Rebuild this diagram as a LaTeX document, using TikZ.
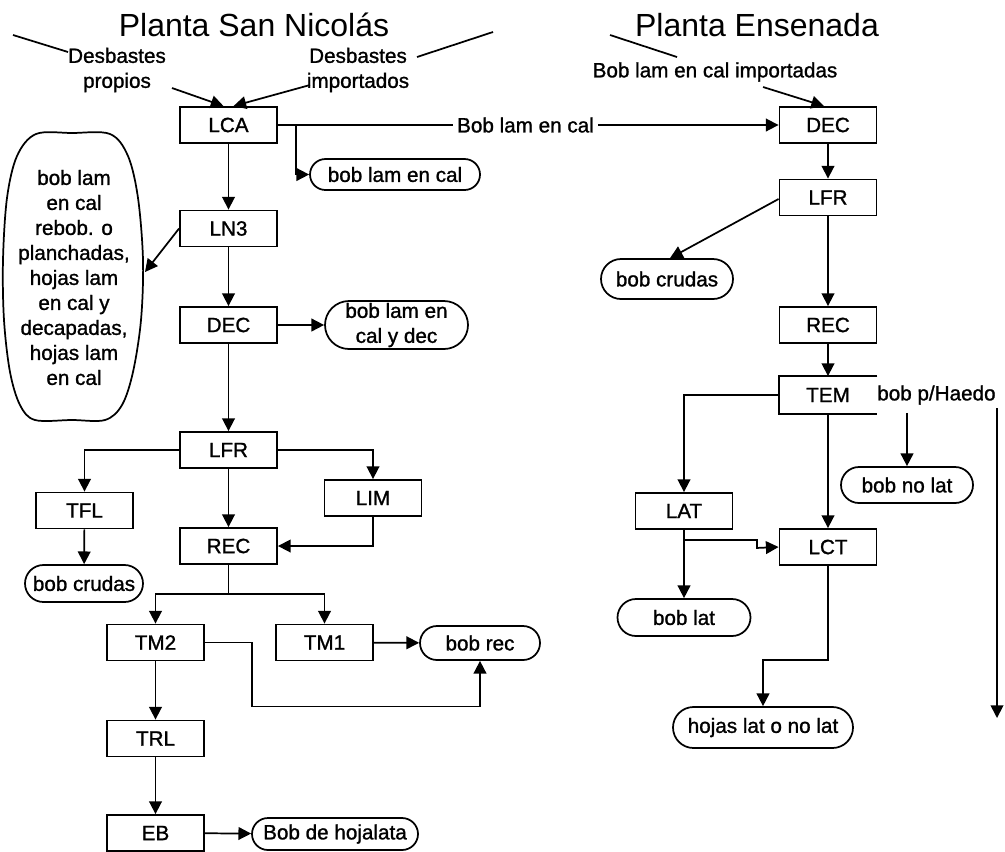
\documentclass[tikz,border=0pt]{standalone}
\usepackage{fontspec}
\setmainfont{Liberation Sans}
\newfontfamily\heavyface{Liberation Sans}[FakeBold=1.2]
\usetikzlibrary{arrows.meta,shapes.misc,calc}

\newcommand{\bodyfnt}{\heavyface\fontsize{15.5}{18.75}\selectfont}
\newcommand{\titlefnt}{\normalfont\fontsize{24}{28}\selectfont}

\tikzset{
  every node/.style={font=\bodyfnt},
  box/.style={draw, rectangle, line width=1.4pt, minimum width=72.75pt,
              minimum height=27pt, inner sep=0pt},
  term/.style={draw, rounded rectangle, line width=1.3pt, inner sep=0pt, align=center},
  lbl/.style={inner sep=0pt, align=center},
  flow/.style={line width=1.3pt, -{Triangle[length=9.5pt,width=9.5pt]}},
  plain/.style={line width=1.3pt},
}

\begin{document}
\begin{tikzpicture}[x=0.75pt,y=-0.75pt]
\useasboundingbox (0,0) rectangle (1005,851);

% ---------- titles ----------
\node[lbl, font=\titlefnt] (tsn) at (254,25) {Planta San Nicolás};
\node[lbl, font=\titlefnt] (ten) at (757,25) {Planta Ensenada};

% ---------- Planta San Nicolás ----------
\node[lbl] (dprop) at (117,70) {Desbastes\\propios};
\node[lbl] (dimp)  at (358,70) {Desbastes\\importados};

\node[box] (lca)  at (228.5,125)  {LCA};
\node[box] (ln3)  at (228.5,228.5) {LN3};
\node[box] (dec1) at (228.5,325)  {DEC};
\node[box] (lfr1) at (228.5,450)  {LFR};
\node[box] (tfl)  at (84.5,510.5) {TFL};
\node[box] (lim)  at (373,498)    {LIM};
\node[box] (rec1) at (228.5,546)  {REC};
\node[box] (tm2)  at (155.5,642.5) {TM2};
\node[box] (tm1)  at (324.5,642.5) {TM1};
\node[box] (trl)  at (155.5,738.5) {TRL};
\node[box] (eb)   at (155.5,833)  {EB};

\node[term, minimum width=127.5pt, minimum height=23.25pt] (blec) at (395,174.5) {bob lam en cal};
\node[term, minimum width=107.25pt, minimum height=36pt] (blyd) at (396.5,325) {bob lam en\\cal y dec};
\node[term, minimum width=88.5pt, minimum height=27.75pt] (crud1) at (84,583.5) {bob crudas};
\node[term, minimum width=90pt, minimum height=25.5pt] (bobrec) at (480,643) {bob rec};
\node[term, minimum width=124.5pt, minimum height=24pt] (hojal) at (335,834) {Bob de hojalata};

% tall barrel-shaped outlet on the left
\draw[plain] plot[smooth cycle, tension=0.55] coordinates {
  (72,133) (110,134) (128,156) (138,198) (143,260) (141,320) (133,372)
  (122,405) (105,420) (72,420) (35,420) (20,405) (10,372) (4,320)
  (3,260) (7,198) (17,156) (36,134)};
\node[lbl] (hojas1) at (74,277.5)
  {bob lam\\en cal\\rebob. o\\planchadas,\\hojas lam\\en cal y\\decapadas,\\hojas lam\\en cal};
\coordinate (eltip) at (145,272);

% inputs
\coordinate (sn1) at (13,35);
\coordinate (sn1b) at (68,52);
\coordinate (sn2) at (493,32);
\coordinate (sn2b) at (417,57);
\coordinate (pin) at (172,88);
\coordinate (iin) at (310,85);
\draw[plain] (sn1) -- (sn1b);
\draw[plain] (sn2) -- (sn2b);
\draw[flow] (pin) -- ($(lca.north)+(-5,0)$);
\draw[flow] (iin) -- ($(lca.north)+(5,0)$);

% LCA outputs
\node[lbl, inner xsep=3pt] (bl) at (525.5,125) {Bob lam en cal};
\draw[plain] (lca.east) -- (bl.west);
\draw[flow] ($(lca.east)+(18,0)$) |- (blec.west);
\draw[flow] (lca) -- (ln3);
\draw[flow] (ln3.west) -- (eltip);
\draw[flow] (ln3) -- (dec1);
\draw[flow] (dec1) -- (blyd);
\draw[flow] (dec1) -- (lfr1);
\draw[flow] (lfr1.west) -| (tfl.north);
\draw[flow] (tfl) -- (crud1);
\draw[flow] (lfr1.east) -| (lim.north);
\draw[flow] (lfr1) -- (rec1);
\draw[flow] (lim.south) |- (rec1.east);
\draw[plain] (rec1.south) -- ++(0,29) coordinate (split);
\draw[flow] (split) -| (tm2.north);
\draw[flow] (split) -| (tm1.north);
\draw[flow] (tm1) -- (bobrec);
\draw[flow] (tm2.east) -- ++(47,0) -- ++(0,64) -| (bobrec.south);
\draw[flow] (tm2) -- (trl);
\draw[flow] (trl) -- (eb);
\draw[flow] (eb) -- (hojal);

% ---------- Planta Ensenada ----------
\node[lbl] (bimp) at (715,72) {Bob lam en cal importadas};
\coordinate (en1) at (610,35);
\coordinate (en1b) at (677,57);
\coordinate (eimp) at (763,87);
\draw[plain] (en1) -- (en1b);

\node[box] (dec2) at (828,125)   {DEC};
\node[box] (lfr2) at (828,197.5) {LFR};
\node[box] (rec2) at (828,325)   {REC};
\node[box, draw=none] (tem) at (828,395) {TEM};
\draw[line width=1.4pt] (tem.north east) -- (tem.north west) -- (tem.south west) -- (tem.south east);
\node[box] (lat)  at (684,511)   {LAT};
\node[box] (lct)  at (828,547)   {LCT};
\node[lbl, anchor=west] (haedo) at (877,395) {bob p/Haedo};

\node[term, minimum width=99pt, minimum height=30pt] (crud2) at (667,279) {bob crudas};
\node[term, minimum width=99pt, minimum height=27pt] (nolat) at (907,485) {bob no lat};
\node[term, minimum width=99.75pt, minimum height=27.75pt] (boblat) at (684,617.5) {bob lat};
\node[term, minimum width=135pt, minimum height=30.75pt] (hojlat) at (763,727.5) {hojas lat o no lat};

\draw[flow] (bl.east) -- (dec2.west);
\draw[flow] (eimp) -- ($(dec2.north)+(-4,0)$);
\draw[flow] (dec2) -- (lfr2);
\draw[flow] ($(lfr2.west)+(0,1.5)$) -- ($(crud2.north)+(3,0)$);
\draw[flow] (lfr2) -- (rec2);
\draw[flow] (rec2) -- (tem);
\draw[flow] (tem.west) -| (lat.north);
\draw[flow] (tem.south) -- (lct.north);
\draw[flow] (lat) -- (boblat);
\draw[flow] ($(lat.south)+(0,10)$) -- ++(73,0) -- ++(0,8) -- (lct.west);
\draw[flow] (lct.south) -- ++(0,94) -| (hojlat.north);
\draw[flow] ($(nolat.north |- haedo.south)+(0,8)$) -- (nolat.north);
\coordinate (lgA) at (997,408);
\coordinate (lgB) at (997,718);
\draw[flow] (lgA) -- (lgB);
\end{tikzpicture}
\end{document}
